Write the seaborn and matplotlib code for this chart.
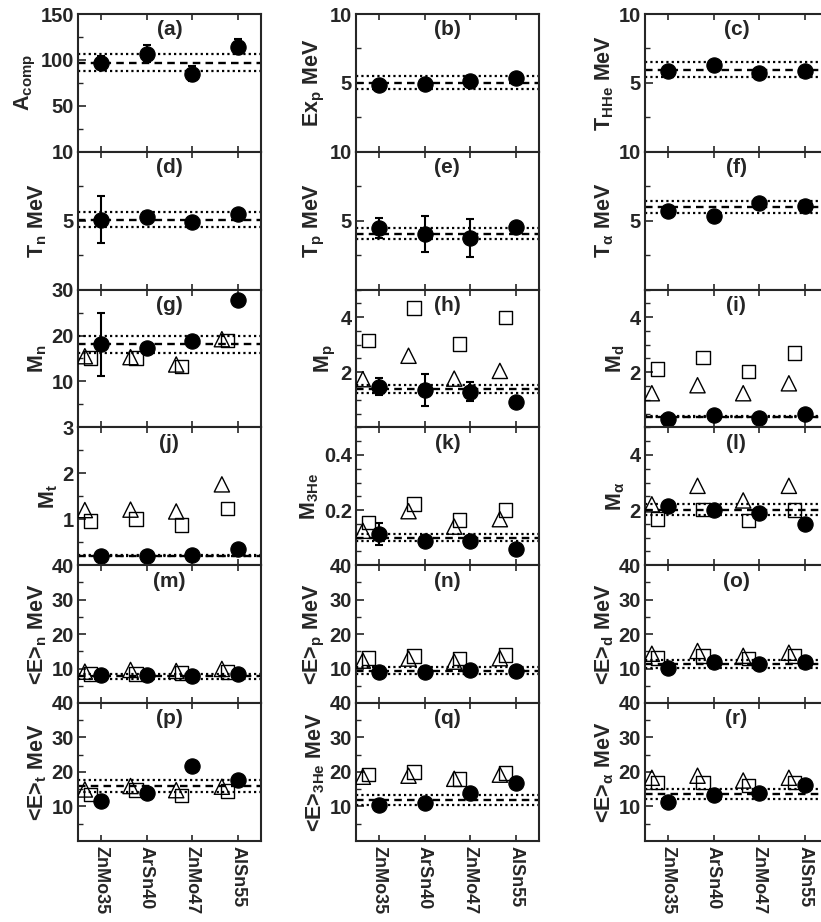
import numpy as np
import pandas as pd
import matplotlib
matplotlib.use("Agg")
import matplotlib.pyplot as plt
from matplotlib.ticker import MultipleLocator, FuncFormatter
import seaborn as sns

# ---------------- data ----------------
systems = ["ZnMo35", "ArSn40", "ZnMo47", "AlSn55"]

A_comp = [97, 107, 85, 114.5]; A_comp_err = [7, 9, 8, 8]; A_comp_line = (97, 9.5)
Ex_p = [4.86, 4.93, 5.14, 5.34]; Ex_p_err = [0.35, 0.35, 0.35, 0.35]; Ex_p_line = (5.02, 0.48)
T_HHe = [5.87, 6.3, 5.72, 5.87]; T_HHe_err = [0.2, 0.2, 0.2, 0.2]; T_HHe_line = (5.95, 0.55)
T_n = [5.07, 5.27, 4.88, 5.51]; T_n_err = [1.72, 0, 0, 0]; T_n_line = (5.07, 0.53)
T_p = [4.47, 4.03, 3.72, 4.51]; T_p_err = [0.72, 1.33, 1.37, 0]; T_p_line = (4.06, 0.40)
T_alpha = [5.72, 5.36, 6.3, 6.09]; T_alpha_err = [0, 0, 0.3, 0]; T_alpha_line = (6.0, 0.45)

M_n = [18.06, 17.3, 18.9, 27.8]; M_n_err = [6.9, 0, 0, 0]
M_n_tri = [15.5, 15.3, 13.7, 19.2]; M_n_sq = [15.1, 15.1, 13.3, 18.9]; M_n_line = (18.06, 1.85)
M_p = [1.48, 1.36, 1.30, 0.93]; M_p_err = [0.32, 0.58, 0.33, 0]
M_p_tri = [1.75, 2.6, 1.77, 2.05]; M_p_sq = [3.15, 4.33, 3.03, 3.99]; M_p_line = (1.39, 0.15)
M_d = [0.30, 0.45, 0.33, 0.48]
M_d_tri = [1.24, 1.53, 1.24, 1.60]; M_d_sq = [2.12, 2.54, 2.02, 2.70]; M_d_line = (0.39, 0.03)
M_t = [0.21, 0.20, 0.23, 0.35]; M_t_err = [0.05, 0, 0, 0]
M_t_tri = [1.20, 1.21, 1.17, 1.76]; M_t_sq = [0.96, 1.00, 0.88, 1.23]; M_t_line = (0.21, 0.02)
M_3He = [0.114, 0.086, 0.086, 0.057]; M_3He_err = [0.04, 0, 0, 0]
M_3He_tri = [0.125, 0.196, 0.14, 0.167]; M_3He_sq = [0.155, 0.223, 0.164, 0.20]; M_3He_line = (0.10, 0.012)
M_alpha = [2.14, 2.0, 1.88, 1.51]
M_alpha_tri = [2.21, 2.88, 2.35, 2.88]; M_alpha_sq = [1.67, 2.02, 1.62, 2.0]; M_alpha_line = (2.02, 0.19)

E_n = [8.0, 8.0, 7.7, 8.5]
E_n_tri = [9.1, 9.6, 9.3, 9.9]; E_n_sq = [8.4, 8.4, 8.7, 9.0]; E_n_line = (7.8, 0.7)
E_p = [8.9, 8.9, 9.7, 9.4]
E_p_tri = [12.3, 12.9, 12.0, 13.0]; E_p_sq = [13.1, 13.7, 12.9, 14.0]; E_p_line = (9.4, 1.1)
E_d = [10.3, 12.0, 11.4, 12.0]
E_d_tri = [14.3, 15.1, 13.7, 14.6]; E_d_sq = [13.1, 13.7, 12.9, 13.7]; E_d_line = (11.4, 1.2)
E_t = [11.6, 13.8, 21.6, 17.6]
E_t_tri = [14.9, 15.9, 14.7, 15.7]; E_t_sq = [13.5, 14.7, 13.1, 14.4]; E_t_line = (15.9, 1.65)
E_3He = [10.4, 11.0, 13.8, 16.9]
E_3He_tri = [18.6, 18.9, 18.0, 19.2]; E_3He_sq = [19.2, 20.0, 18.0, 19.7]; E_3He_line = (11.8, 1.5)
E_alpha = [11.3, 13.2, 13.8, 16.3]
E_alpha_tri = [18.3, 18.9, 17.5, 18.3]; E_alpha_sq = [16.9, 16.9, 16.1, 16.9]; E_alpha_line = (13.5, 1.5)

# panel: (letter, ylabel, circ, err, tri, sq, line, ylim, major, minor, fmt)
panels = [
    ("(a)", r"A$_{comp}$", A_comp, A_comp_err, None, None, A_comp_line, (0, 150), 50, 25, "%g"),
    ("(b)", r"Ex$_p$ MeV", Ex_p, Ex_p_err, None, None, Ex_p_line, (0, 10), 5, 2.5, "%g"),
    ("(c)", r"T$_{HHe}$ MeV", T_HHe, T_HHe_err, None, None, T_HHe_line, (0, 10), 5, 2.5, "%g"),
    ("(d)", r"T$_n$ MeV", T_n, T_n_err, None, None, T_n_line, (0, 10), 5, 2.5, "%g"),
    ("(e)", r"T$_p$ MeV", T_p, T_p_err, None, None, T_p_line, (0, 10), 5, 2.5, "%g"),
    ("(f)", r"T$_\alpha$ MeV", T_alpha, T_alpha_err, None, None, T_alpha_line, (0, 10), 5, 2.5, "%g"),
    ("(g)", r"M$_n$", M_n, M_n_err, M_n_tri, M_n_sq, M_n_line, (0, 30), 10, 5, "%g"),
    ("(h)", r"M$_p$", M_p, M_p_err, M_p_tri, M_p_sq, M_p_line, (0, 5), 2, 0.5, "%g"),
    ("(i)", r"M$_d$", M_d, None, M_d_tri, M_d_sq, M_d_line, (0, 5), 2, 0.5, "%g"),
    ("(j)", r"M$_t$", M_t, M_t_err, M_t_tri, M_t_sq, M_t_line, (0, 3), 1, 0.5, "%g"),
    ("(k)", r"M$_{3He}$", M_3He, M_3He_err, M_3He_tri, M_3He_sq, M_3He_line, (0, 0.5), 0.2, 0.05, "%.1f"),
    ("(l)", r"M$_\alpha$", M_alpha, None, M_alpha_tri, M_alpha_sq, M_alpha_line, (0, 5), 2, 0.5, "%g"),
    ("(m)", r"<E>$_n$ MeV", E_n, None, E_n_tri, E_n_sq, E_n_line, (0, 40), 10, 5, "%g"),
    ("(n)", r"<E>$_p$ MeV", E_p, None, E_p_tri, E_p_sq, E_p_line, (0, 40), 10, 5, "%g"),
    ("(o)", r"<E>$_d$ MeV", E_d, None, E_d_tri, E_d_sq, E_d_line, (0, 40), 10, 5, "%g"),
    ("(p)", r"<E>$_t$ MeV", E_t, None, E_t_tri, E_t_sq, E_t_line, (0, 40), 10, 5, "%g"),
    ("(q)", r"<E>$_{3He}$ MeV", E_3He, None, E_3He_tri, E_3He_sq, E_3He_line, (0, 40), 10, 5, "%g"),
    ("(r)", r"<E>$_\alpha$ MeV", E_alpha, None, E_alpha_tri, E_alpha_sq, E_alpha_line, (0, 40), 10, 5, "%g"),
]

# ---------------- style ----------------
sns.set_style("ticks")
plt.rcParams["font.family"] = ["Liberation Sans", "DejaVu Sans"]
plt.rcParams["font.weight"] = "bold"
plt.rcParams["axes.labelweight"] = "bold"
plt.rcParams["mathtext.fontset"] = "custom"
plt.rcParams["mathtext.rm"] = "Liberation Sans:bold"
plt.rcParams["mathtext.bf"] = "Liberation Sans:bold"
plt.rcParams["mathtext.it"] = "Liberation Sans:bold"
plt.rcParams["mathtext.default"] = "bf"

W, H = 821, 922
fig = plt.figure(figsize=(W / 100, H / 100), dpi=100)

col_left = [78, 356, 645]
ax_w = 182.7
row_top0 = 14
row_h = 137.8

xpos = np.arange(1, 5)
tri_off, sq_off = -0.35, -0.23

for i, (letter, ylab, circ, err, tri, sq, line, ylim, major, minor, fmt) in enumerate(panels):
    r, c = divmod(i, 3)
    top = row_top0 + r * row_h
    ax = fig.add_axes([col_left[c] / W, 1 - (top + row_h) / H, ax_w / W, row_h / H])

    m, b = line
    ax.axhline(m, color="black", lw=1.7, ls=(0, (3.2, 2.2)), zorder=2)
    ax.axhline(m + b, color="black", lw=1.6, ls=(0, (1, 1.4)), zorder=2)
    ax.axhline(m - b, color="black", lw=1.6, ls=(0, (1, 1.4)), zorder=2)

    if tri is not None:
        dft = pd.DataFrame({"x": xpos + tri_off, "y": tri})
        sns.scatterplot(data=dft, x="x", y="y", marker="^", s=120, color="black",
                        ax=ax, legend=False, zorder=3)
        coll = ax.collections[-1]
        coll.set_facecolor("none"); coll.set_edgecolor("black"); coll.set_linewidth(1.0)
        dfs = pd.DataFrame({"x": xpos + sq_off, "y": sq})
        sns.scatterplot(data=dfs, x="x", y="y", marker="s", s=95, color="black",
                        ax=ax, legend=False, zorder=3)
        coll = ax.collections[-1]
        coll.set_facecolor("none"); coll.set_edgecolor("black"); coll.set_linewidth(1.0)

    if err is not None:
        e = np.array(err, dtype=float)
        msk = e > 0
        if msk.any():
            ax.errorbar(xpos[msk], np.array(circ)[msk], yerr=e[msk], fmt="none",
                        ecolor="black", elinewidth=1.5, capsize=3, capthick=1.5, zorder=4)

    dfc = pd.DataFrame({"x": xpos, "y": circ})
    sns.scatterplot(data=dfc, x="x", y="y", marker="o", s=120, color="black",
                    edgecolor="black", ax=ax, legend=False, zorder=5)

    ax.set_xlim(0.5, 4.5)
    ax.set_ylim(*ylim)
    ax.set_xticks(xpos)
    ax.yaxis.set_major_locator(MultipleLocator(major))
    ax.yaxis.set_minor_locator(MultipleLocator(minor))
    ax.yaxis.set_major_formatter(FuncFormatter(
        lambda v, p, f=fmt: "" if abs(v) < 1e-9 else f % v))
    ax.tick_params(axis="x", which="both", direction="in", top=True, bottom=True,
                   length=4, width=1.2, labelbottom=(r == 5))
    ax.tick_params(axis="y", which="major", direction="in", left=True, right=False,
                   length=6, width=1.2, labelsize=14.5, pad=3)
    ax.tick_params(axis="y", which="minor", direction="in", left=True, right=False,
                   length=3.5, width=1.0)
    for lab in ax.get_yticklabels():
        lab.set_fontweight("bold")
    if r == 5:
        ax.set_xticklabels(systems, rotation=270, fontsize=13, fontweight="bold")
    else:
        ax.set_xticklabels([])
    for sp in ax.spines.values():
        sp.set_linewidth(1.5)
        sp.set_visible(True)
    ax.set_xlabel("")
    ax.set_ylabel(ylab, fontsize=15.5, fontweight="bold", labelpad=2)
    ax.text(0.5, 0.885, letter, transform=ax.transAxes, ha="center", va="center",
            fontsize=15, fontweight="bold")

fig.savefig("out.png", dpi=100)
